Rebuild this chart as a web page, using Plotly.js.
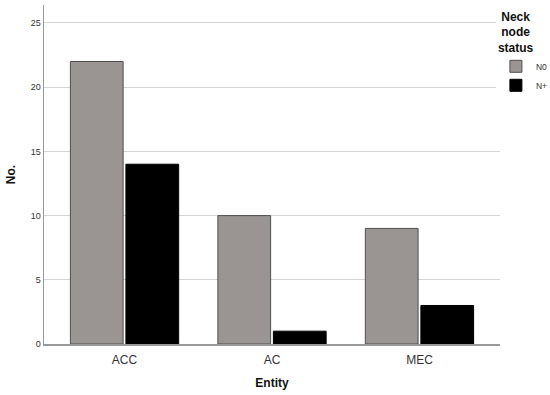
<!DOCTYPE html>
<html>
<head>
<meta charset="utf-8">
<script src="https://cdn.plot.ly/plotly-3.0.1.min.js"></script>
<style>
  body { margin: 0; background: #fff; }
  #chart { width: 550px; height: 395px; }
</style>
</head>
<body>
<div id="chart"></div>
<script>
// counts per entity, split by neck node status
var entities = ['ACC', 'AC', 'MEC'];
var n0 = [22, 10, 9];
var nplus = [14, 1, 3];
var yTicks = [0, 5, 10, 15, 20, 25];

var font = 'Liberation Sans, Arial, sans-serif';

var data = [
  {
    type: 'bar',
    name: 'N0',
    x: entities,
    y: n0,
    marker: { color: '#9a9593', line: { color: '#505050', width: 1 } },
    hoverinfo: 'x+y'
  },
  {
    type: 'bar',
    name: 'N+',
    x: entities,
    y: nplus,
    marker: { color: '#000000', line: { color: '#000000', width: 1 } },
    hoverinfo: 'x+y'
  }
];

var layout = {
  width: 550,
  height: 395,
  margin: { l: 44, r: 50, t: 5, b: 51, autoexpand: false },
  paper_bgcolor: '#fff',
  plot_bgcolor: '#fff',
  font: { family: font, color: '#333' },
  barmode: 'group',
  bargap: 0.247,
  bargroupgap: 0.05,
  showlegend: true,
  legend: {
    x: 0.991, xanchor: 'left',
    y: 1.0, yanchor: 'top',
    itemwidth: 30,
    font: { size: 8.5, color: '#333' },
    // nbsp padding roughly centres the short lines like the original
    title: { text: '<b>&nbsp;Neck<br>&nbsp;node<br>status</b>', font: { size: 12, color: '#111' } },
    tracegroupgap: 0
  },
  xaxis: {
    range: [-0.546, 2.546],
    showline: true, linecolor: '#999', linewidth: 1.5,
    ticks: '', showgrid: false,
    ticklabelstandoff: 4,
    tickfont: { size: 12, color: '#333' },
    title: { text: '<b>Entity</b>', font: { size: 12, color: '#111' }, standoff: 12 }
  },
  yaxis: {
    range: [0, 26.4],
    tickvals: yTicks,
    showline: true, linecolor: '#999', linewidth: 1.5,
    showgrid: true, gridcolor: '#d4d4d4', gridwidth: 1,
    zeroline: false, ticks: '',
    tickfont: { size: 9, color: '#333' },
    title: { text: '<b>No.</b>', font: { size: 12, color: '#111' }, standoff: 12 }
  }
};

Plotly.newPlot('chart', data, layout, { displayModeBar: false, staticPlot: true });
</script>
</body>
</html>
